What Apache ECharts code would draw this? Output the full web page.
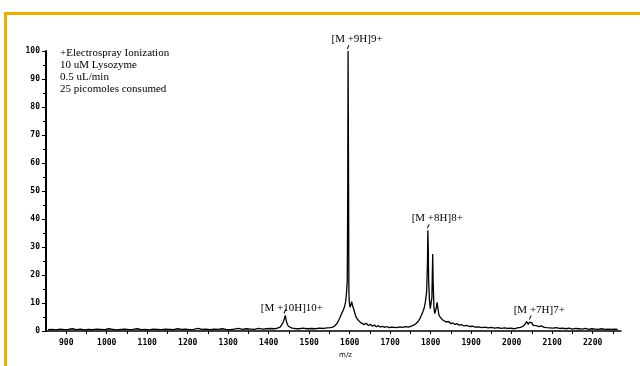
<!DOCTYPE html>
<html><head><meta charset="utf-8">
<script src="https://cdn.jsdelivr.net/npm/echarts@6/dist/echarts.min.js"></script>
<style>
html,body{margin:0;padding:0;background:#fff;}
#frame{position:absolute;left:4px;top:12px;width:636px;height:354px;border-top:3px solid #F0AA00;border-left:3px solid #F0AA00;box-sizing:border-box;}
#c{position:absolute;left:0;top:0;width:640px;height:366px;}
</style></head>
<body><div id="frame"></div><div id="c"></div>
<script>
// m/z values
const mz = [
 855,865,875,885,895,905,915,925,935,945,955,965,975,985,995,1005,1015,1025,1035,1045,
 1055,1065,1075,1085,1095,1105,1115,1125,1135,1145,1155,1165,1175,1185,1195,1205,1215,1225,1235,1245,
 1255,1265,1275,1285,1295,1305,1315,1325,1335,1345,1355,1365,1375,1385,1395,1405,1415,1422,1428,1432,
 1436,1439,1441,1443,1446,1449,1453,1458,1465,1475,1485,1495,1505,1515,1525,1535,1545,1552,1558,1563,
 1568,1572,1576,1580,1584,1587,1590,1592,1594,1595,1596,1597,1598,1599,1601,1603,1605,1607,1609,1612,
 1615,1619,1623,1627,1631,1636,1641,1646,1651,1656,1661,1666,1671,1676,1681,1686,1691,1697,1703,1710,
 1717,1724,1731,1738,1745,1752,1758,1764,1769,1773,1777,1781,1784,1787,1790,1792,1793,1794,1795,1797,
 1799,1801,1803,1804,1805,1806,1808,1810,1812,1814,1816,1818,1820,1822,1825,1829,1833,1837,1841,1845,
 1850,1855,1860,1865,1870,1876,1882,1889,1896,1903,1910,1918,1926,1934,1942,1950,1958,1966,1974,1982,
 1990,1998,2006,2014,2022,2028,2033,2037,2041,2044,2047,2050,2053,2056,2060,2064,2068,2073,2079,2086,
 2094,2102,2110,2118,2126,2134,2142,2150,2158,2166,2174,2182,2190,2198,2206,2214,2222,2230,2238,2246,
 2254,2262
];
// relative abundance (%)
const intensity = [
 0.5,0.6,0.4,0.7,0.5,0.6,0.8,0.5,0.7,0.4,0.6,0.5,0.7,0.6,0.5,0.8,0.6,0.4,0.6,0.7,
 0.5,0.6,0.8,0.5,0.6,0.4,0.7,0.6,0.5,0.7,0.6,0.5,0.8,0.6,0.7,0.5,0.6,0.9,0.6,0.7,
 0.5,0.7,0.6,0.8,0.6,0.5,0.7,0.9,0.6,0.8,0.7,0.6,0.9,0.7,0.8,0.9,0.8,1.0,1.4,2.2,
 3.2,4.6,5.6,3.8,2.4,1.6,1.2,1.0,0.9,0.8,1.0,0.8,0.9,0.8,1.0,0.9,1.1,1.2,1.4,1.8,
 2.6,3.6,4.8,6.2,7.4,8.6,10.5,13.5,18,45,100,62,14,10,8.5,9.5,10.5,9.0,8.2,6.8,
 5.2,4.2,3.6,3.0,2.6,2.3,2.8,1.9,2.4,1.7,2.1,1.5,1.9,1.4,1.7,1.3,1.6,1.2,1.4,1.3,
 1.2,1.5,1.3,1.6,1.4,1.7,2.1,2.7,3.4,4.3,5.6,7.0,8.2,10.5,14,24,36,30,18,11,
 8.0,7.4,12,20,27.5,18,8.5,6.2,6.6,8.4,10.2,8.0,6.0,5.2,4.6,4.0,3.7,3.3,2.9,3.3,
 2.6,2.9,2.3,2.6,2.1,2.3,1.8,2.0,1.6,1.7,1.4,1.5,1.2,1.4,1.1,1.3,1.0,1.2,0.9,1.1,
 0.9,1.0,0.8,1.1,1.3,1.7,2.4,3.4,2.3,3.2,2.5,2.9,2.0,2.6,1.9,2.2,1.6,1.8,1.4,1.2,
 1.1,1.0,1.2,0.9,1.0,0.8,1.0,0.7,0.9,0.8,0.7,0.9,0.6,0.8,0.7,0.6,0.8,0.6,0.7,0.6,
 0.7,0.6
];
// axis tick labels
const xTickLabels = [900,1000,1100,1200,1300,1400,1500,1600,1700,1800,1900,2000,2100,2200];
const yTickLabels = [0,10,20,30,40,50,60,70,80,90,100];
// peak annotations
const peakNames = ['[M +10H]10+','[M +9H]9+','[M +8H]8+','[M +7H]7+'];
const peakMz = [1440,1596,1794,2046];
const peakTop = [5.6,100,36,3.4];
// method notes
const notes = ['+Electrospray Ionization','10 uM Lysozyme','0.5 uL/min','25 picomoles consumed'];

const labelOffsets = [[7,5],[9,0],[9,0],[9,1]];

const chart = echarts.init(document.getElementById('c'), null, {renderer:'canvas'});
const tickFont = {fontFamily:'DejaVu Sans Mono', fontSize:8, fontWeight:'bold', color:'#000'};
chart.setOption({
  animation:false,
  backgroundColor:'transparent',
  grid:{left:46, right:19, top:51, bottom:35, containLabel:false},
  xAxis:{
    type:'value', min:850, max:2270, interval:50,
    axisLine:{onZero:false, lineStyle:{color:'#000', width:1.5}},
    axisTick:{show:true, inside:false, length:3, lineStyle:{color:'#000', width:1}},
    splitLine:{show:false},
    axisLabel:Object.assign({margin:8, showMinLabel:false, showMaxLabel:false,
      formatter:v=> xTickLabels.indexOf(v)>=0 ? String(v) : ''}, tickFont),
    name:'m/z', nameLocation:'middle', nameGap:19,
    nameTextStyle:{fontFamily:'DejaVu Sans', fontSize:7, color:'#000', padding:[0,0,0,24]}
  },
  yAxis:{
    type:'value', min:0, max:100, interval:10,
    axisLine:{show:true, lineStyle:{color:'#000', width:2}},
    axisTick:{show:true, length:4, lineStyle:{color:'#000', width:1}},
    minorTick:{show:true, splitNumber:2, length:3, lineStyle:{color:'#000'}},
    splitLine:{show:false},
    axisLabel:Object.assign({margin:6, formatter:v=> yTickLabels.indexOf(v)>=0 ? String(v) : ''}, tickFont)
  },
  graphic: notes.map((t,i)=>({type:'text', left:60, top:48+i*12,
    style:{text:t, font:'11px "Liberation Serif"', fill:'#000'}})),
  series:[{
    type:'line', data: mz.map((m,i)=>[m,intensity[i]]),
    showSymbol:false, symbol:'none',
    lineStyle:{color:'#000', width:1.3},
    markPoint:{
      symbol:'path://M0,10L3,0', symbolSize:[2,4], symbolOffset:[0,-4],
      itemStyle:{color:'#000', borderColor:'#000', borderWidth:0.8},
      label:{show:true, position:'top', distance:0, color:'#000',
        fontFamily:'Liberation Serif', fontSize:11,
        formatter:p=>p.name},
      data: peakNames.map((n,i)=>({name:n, coord:[peakMz[i], peakTop[i]],
        label:{offset:labelOffsets[i]}}))
    }
  }]
});
</script></body></html>
